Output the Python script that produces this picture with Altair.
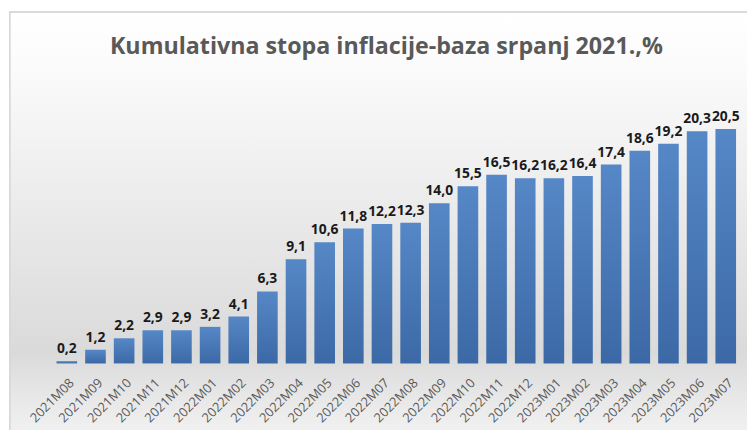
import altair as alt
import pandas as pd

months = ["2021M08", "2021M09", "2021M10", "2021M11", "2021M12",
          "2022M01", "2022M02", "2022M03", "2022M04", "2022M05", "2022M06",
          "2022M07", "2022M08", "2022M09", "2022M10", "2022M11", "2022M12",
          "2023M01", "2023M02", "2023M03", "2023M04", "2023M05", "2023M06",
          "2023M07"]
values = [0.2, 1.2, 2.2, 2.9, 2.9, 3.2, 4.1, 6.3, 9.1, 10.6, 11.8,
          12.2, 12.3, 14.0, 15.5, 16.5, 16.2, 16.2, 16.4, 17.4, 18.6,
          19.2, 20.3, 20.5]

title_text = "Kumulativna stopa inflacije-baza srpanj 2021.,%"

df = pd.DataFrame({"mjesec": months, "vrijednost": values})

W = 695
H = 289

bg = alt.Chart(df).mark_rect(
    color=alt.LinearGradient(
        gradient="linear", x1=0, y1=0, x2=0, y2=1,
        stops=[alt.GradientStop(offset=0, color="#ffffff"),
               alt.GradientStop(offset=0.12, color="#fbfbfb"),
               alt.GradientStop(offset=0.74, color="#dadada"),
               alt.GradientStop(offset=0.84, color="#e8e8e8"),
               alt.GradientStop(offset=1, color="#fbfbfb")]),
    stroke="#d9d9d9", strokeWidth=1.5,
).encode(
    x=alt.value(-43), x2=alt.value(W + 40),
    y=alt.value(-66), y2=alt.value(H + 110),
)

title = alt.Chart(pd.DataFrame({"t": [title_text]})).mark_text(
    font="Open Sans", fontSize=23.5, fontWeight="bold",
    color="#595959", align="center", baseline="middle",
).encode(x=alt.value(W / 2 - 10), y=alt.value(-31), text="t:N")

x_enc = alt.X("mjesec:N", sort=months,
              scale=alt.Scale(paddingInner=0.28, paddingOuter=0.14),
              axis=alt.Axis(title=None, labelAngle=-45, labelFont="Open Sans",
                            labelFontSize=13, labelColor="#595959",
                            domain=False, ticks=False, labelPadding=13,
                            labelOffset=1, zindex=2))
y_enc = alt.Y("vrijednost:Q", scale=alt.Scale(domain=[0, 25]), axis=None)

bars = alt.Chart(df).mark_bar(
    color=alt.LinearGradient(
        gradient="linear", x1=0, y1=0, x2=0, y2=1,
        stops=[alt.GradientStop(offset=0, color="#5687c6"),
               alt.GradientStop(offset=1, color="#3c69a6")]),
).encode(x=x_enc, y=y_enc)

labels = alt.Chart(df).transform_calculate(
    lab="replace(format(datum.vrijednost, '.1f'), '.', ',')"
).mark_text(
    font="Open Sans", fontSize=14, fontWeight="bold", color="#1a1a1a",
    baseline="bottom", dy=-5,
).encode(x=x_enc, y=y_enc, text="lab:N")

chart = alt.layer(bg, title, bars, labels).properties(
    width=W, height=H,
    autosize=alt.AutoSizeParams(type="none"),
    padding={"left": 45, "top": 68, "right": 7, "bottom": 65},
).configure_view(strokeWidth=0)

chart.save("out.html", embed_options={"renderer": "svg", "actions": False})
